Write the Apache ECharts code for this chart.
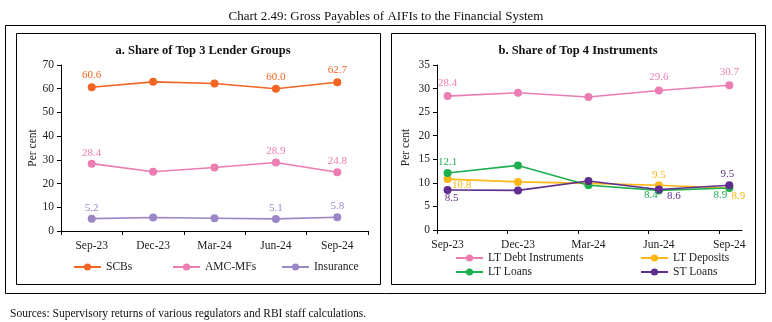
<!DOCTYPE html>
<html>
<head>
<meta charset="utf-8">
<script src="https://cdn.jsdelivr.net/npm/echarts@6/dist/echarts.min.js"></script>
<style>
  html, body { margin: 0; padding: 0; background: #fff; }
  #chart { width: 772px; height: 322px; }
</style>
</head>
<body>
<div id="chart"></div>
<script>
// Quarter-end categories shared by both panels
const quarters = ['Sep-23', 'Dec-23', 'Mar-24', 'Jun-24', 'Sep-24'];

// Panel a: share of top 3 lender groups (per cent)
const scbs = [60.6, 62.9, 62.2, 60.0, 62.7];
const amcMfs = [28.4, 25.0, 26.8, 28.9, 24.8];
const insurance = [5.2, 5.7, 5.4, 5.1, 5.8];
const axisATicks = { min: 0, max: 70, interval: 10 };

// Panel b: share of top 4 instruments (per cent)
const ltDebt = [28.4, 29.1, 28.2, 29.6, 30.7];
const ltDeposits = [10.8, 10.2, 9.9, 9.5, 8.9];
const ltLoans = [12.1, 13.7, 9.5, 8.4, 8.9];
const stLoans = [8.5, 8.4, 10.4, 8.6, 9.5];
const axisBTicks = { min: 0, max: 35, interval: 5 };

const SERIF = '"Liberation Serif", "DejaVu Serif", serif';
const C = {
  scbs: '#F26522', amc: '#EC7DB2', ins: '#9B86C6',
  debt: '#EC7DB2', dep: '#FDB813', ltl: '#1DAF50', stl: '#5E2D8F'
};

// Which points carry a value label, and where the label sits relative to the marker
const labelPlacement = {
  scbs: { 0: [0, -12], 3: [0, -12], 4: [0, -12] },
  amc: { 0: [0, -11], 3: [0, -11], 4: [0, -11] },
  ins: { 0: [0, -11], 3: [0, -11], 4: [0, -11] },
  debt: { 0: [0, -13], 3: [0, -13], 4: [0, -13] },
  dep: { 0: [14, 6], 3: [0, -10], 4: [9, 8] },
  ltl: { 0: [0, -11], 3: [-8, 5], 4: [-9, 7] },
  stl: { 0: [4, 8], 3: [15, 7], 4: [-2, -11] }
};

function withLabels(values, key, color, useIndexX) {
  const place = labelPlacement[key];
  return values.map((v, i) => {
    const item = { value: useIndexX ? [i, v] : v };
    if (place[i]) {
      item.label = {
        show: true, position: 'inside', offset: place[i],
        formatter: v.toFixed(1), color: color,
        fontFamily: SERIF, fontSize: 11
      };
    }
    return item;
  });
}

function lineSeries(name, values, key, color, idx, useIndexX) {
  return {
    name: name, type: 'line', xAxisIndex: idx, yAxisIndex: idx,
    data: withLabels(values, key, color, useIndexX),
    symbol: 'circle', symbolSize: 8,
    lineStyle: { color: color, width: 1.6 },
    itemStyle: { color: color },
    label: { show: false },
    emphasis: { disabled: true },
    animation: false, z: 3
  };
}

const axisLine = { show: true, onZero: false, lineStyle: { color: '#000', width: 1 } };
const tickStyle = { show: true, length: 4, lineStyle: { color: '#000' } };
const txt = { fontFamily: SERIF, fontSize: 11.5, color: '#222' };

function legend(name, left, top) {
  return {
    data: [name], left: left, top: top, itemWidth: 27, itemHeight: 9,
    itemGap: 0, padding: 0, selectedMode: false,
    textStyle: { fontFamily: SERIF, fontSize: 11.5, color: '#222' }
  };
}

const option = {
  animation: false,
  title: [
    { text: 'Chart 2.49: Gross Payables of AIFIs to the Financial System', left: 'center', top: 5,
      textStyle: { fontFamily: SERIF, fontSize: 13, fontWeight: 'normal', color: '#111' } },
    { text: 'a. Share of Top 3 Lender Groups', left: 198, top: 39, textAlign: 'center',
      textStyle: { fontFamily: SERIF, fontSize: 12.5, fontWeight: 'bold', color: '#111' } },
    { text: 'b. Share of Top 4 Instruments', left: 573, top: 39, textAlign: 'center',
      textStyle: { fontFamily: SERIF, fontSize: 12.5, fontWeight: 'bold', color: '#111' } },
    { text: 'Sources: Supervisory returns of various regulators and RBI staff calculations.', left: 5, top: 303,
      textStyle: { fontFamily: SERIF, fontSize: 11.5, fontWeight: 'normal', color: '#111' } }
  ],
  graphic: [
    { type: 'rect', shape: { x: 5.5, y: 25.5, width: 760, height: 268 },
      style: { fill: 'none', stroke: '#000', lineWidth: 1 }, silent: true },
    { type: 'rect', shape: { x: 16.5, y: 33.5, width: 364, height: 251 },
      style: { fill: 'none', stroke: '#000', lineWidth: 1 }, silent: true },
    { type: 'rect', shape: { x: 391.5, y: 33.5, width: 364, height: 251 },
      style: { fill: 'none', stroke: '#000', lineWidth: 1 }, silent: true }
  ],
  legend: [
    legend('SCBs', 73, 261),
    legend('AMC-MFs', 172, 261),
    legend('Insurance', 281, 261),
    legend('LT Debt Instruments', 455, 252),
    legend('LT Deposits', 640, 252),
    legend('LT Loans', 455, 266),
    legend('ST Loans', 640, 266)
  ],
  grid: [
    { left: 61, right: 772 - 368, top: 65, bottom: 322 - 231 },
    { left: 437, right: 772 - 742, top: 65, bottom: 322 - 230 }
  ],
  xAxis: [
    { type: 'category', gridIndex: 0, data: quarters, boundaryGap: true,
      axisLine: axisLine, axisTick: Object.assign({ alignWithLabel: false }, tickStyle),
      axisLabel: Object.assign({ margin: 9, interval: 0 }, txt), splitLine: { show: false } },
    { type: 'value', gridIndex: 1, min: -0.15, max: 4.18,
      axisLine: axisLine,
      axisTick: Object.assign({ customValues: [-0.15, 0.85, 1.85, 2.85, 3.85] }, tickStyle),
      axisLabel: Object.assign({ margin: 9, customValues: [0, 1, 2, 3, 4],
        formatter: v => quarters[Math.round(v)] || '' }, txt),
      splitLine: { show: false } }
  ],
  yAxis: [
    { type: 'value', gridIndex: 0, min: axisATicks.min, max: axisATicks.max, interval: axisATicks.interval,
      name: 'Per cent', nameLocation: 'middle', nameGap: 22, nameRotate: 90,
      nameTextStyle: { fontFamily: SERIF, fontSize: 11.5, color: '#222' },
      axisLine: axisLine, axisTick: tickStyle, axisLabel: Object.assign({ margin: 7 }, txt),
      splitLine: { show: false } },
    { type: 'value', gridIndex: 1, min: axisBTicks.min, max: axisBTicks.max, interval: axisBTicks.interval,
      name: 'Per cent', nameLocation: 'middle', nameGap: 25, nameRotate: 90,
      nameTextStyle: { fontFamily: SERIF, fontSize: 11.5, color: '#222' },
      axisLine: axisLine, axisTick: tickStyle, axisLabel: Object.assign({ margin: 7 }, txt),
      splitLine: { show: false } }
  ],
  series: [
    lineSeries('SCBs', scbs, 'scbs', C.scbs, 0, false),
    lineSeries('AMC-MFs', amcMfs, 'amc', C.amc, 0, false),
    lineSeries('Insurance', insurance, 'ins', C.ins, 0, false),
    lineSeries('LT Debt Instruments', ltDebt, 'debt', C.debt, 1, true),
    lineSeries('LT Deposits', ltDeposits, 'dep', C.dep, 1, true),
    lineSeries('LT Loans', ltLoans, 'ltl', C.ltl, 1, true),
    lineSeries('ST Loans', stLoans, 'stl', C.stl, 1, true)
  ]
};

const chart = echarts.init(document.getElementById('chart'), null, { renderer: 'canvas' });
chart.setOption(option);
</script>
</body>
</html>
